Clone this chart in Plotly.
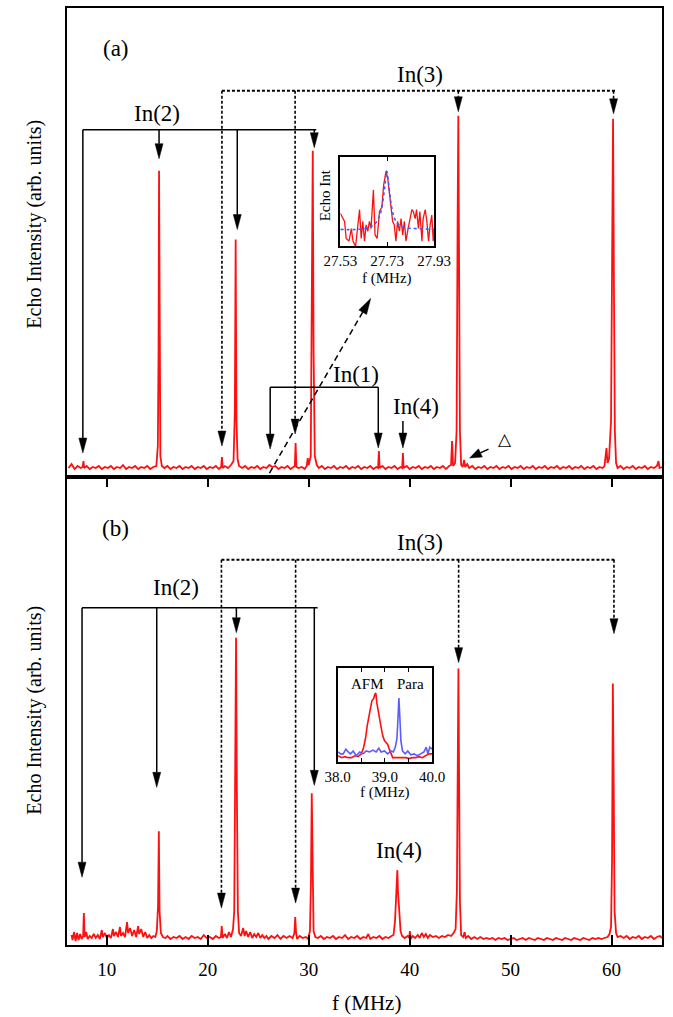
import math
import plotly.graph_objects as go

# ---------------- data: panel (a) spectrum ----------------
A_F = [6.2, 6.5, 6.8, 7.1, 7.4, 7.6, 7.68, 7.76, 8.0, 8.3, 8.6, 8.9, 9.2, 9.5, 9.8, 10.1, 10.4, 10.7,
       11.0, 11.3, 11.6, 11.9, 12.2, 12.5, 12.8, 13.1, 13.4, 13.7, 14.0, 14.3, 14.6, 14.9, 15.05, 15.12,
       15.17, 15.22, 15.3, 15.45, 15.7, 16.0, 16.3, 16.6, 16.9, 17.2, 17.5, 17.8, 18.1, 18.4, 18.7, 19.0,
       19.3, 19.6, 19.9, 20.2, 20.5, 20.8, 21.1, 21.32, 21.4, 21.48, 21.7, 22.0, 22.3, 22.55, 22.68, 22.76,
       22.84, 22.95, 23.1, 23.4, 23.7, 24.0, 24.3, 24.6, 24.9, 25.2, 25.5, 25.8, 26.1, 26.4, 26.7, 27.0,
       27.3, 27.6, 27.9, 28.2, 28.5, 28.62, 28.7, 28.78, 29.0, 29.3, 29.6, 29.8, 29.9, 30.0, 30.2, 30.32,
       30.4, 30.48, 30.6, 30.8, 31.0, 31.3, 31.6, 31.9, 32.2, 32.5, 32.8, 33.1, 33.4, 33.7, 34.0, 34.3,
       34.6, 34.9, 35.2, 35.5, 35.8, 36.1, 36.4, 36.7, 36.87, 36.95, 37.03, 37.3, 37.6, 37.9, 38.2, 38.5,
       38.8, 39.1, 39.26, 39.33, 39.4, 39.7, 40.0, 40.3, 40.6, 40.9, 41.2, 41.5, 41.8, 42.1, 42.4, 42.7,
       43.0, 43.3, 43.6, 43.9, 44.1, 44.2, 44.3, 44.5, 44.65, 44.75, 44.82, 44.9, 44.98, 45.1, 45.25, 45.4,
       45.5, 45.7, 45.9, 46.2, 46.5, 46.8, 47.1, 47.4, 47.7, 48.0, 48.3, 48.6, 48.9, 49.2, 49.5, 49.8,
       50.1, 50.4, 50.7, 51.0, 51.3, 51.6, 51.9, 52.2, 52.5, 52.8, 53.1, 53.4, 53.7, 54.0, 54.3, 54.6,
       54.9, 55.2, 55.5, 55.8, 56.1, 56.4, 56.7, 57.0, 57.3, 57.6, 57.9, 58.2, 58.5, 58.8, 59.1, 59.3,
       59.5, 59.6, 59.75, 59.95, 60.07, 60.15, 60.23, 60.33, 60.45, 60.6, 60.9, 61.2, 61.5, 61.8, 62.1,
       62.4, 62.7, 63.0, 63.3, 63.6, 63.9, 64.2, 64.5, 64.65, 64.75, 65.0]
A_I = [0.03, 0.07, 0.02, 0.05, 0.03, 0.04, 0.10, 0.03, 0.05, 0.02, 0.04, 0.03, 0.05, 0.02, 0.04, 0.03, 0.05, 0.02,
       0.04, 0.03, 0.06, 0.02, 0.04, 0.03, 0.05, 0.02, 0.04, 0.03, 0.05, 0.02, 0.04, 0.05, 0.25, 1.2,
       3.01, 1.0, 0.15, 0.05, 0.03, 0.05, 0.02, 0.04, 0.03, 0.05, 0.02, 0.04, 0.03, 0.05, 0.02, 0.04,
       0.03, 0.05, 0.02, 0.04, 0.03, 0.05, 0.02, 0.04, 0.14, 0.03, 0.05, 0.03, 0.06, 0.10, 0.6, 2.32,
       0.5, 0.12, 0.05, 0.03, 0.05, 0.02, 0.04, 0.03, 0.05, 0.02, 0.04, 0.03, 0.06, 0.04, 0.05, 0.02,
       0.04, 0.03, 0.05, 0.02, 0.04, 0.05, 0.28, 0.04, 0.03, 0.04, 0.02, 0.05, 0.13, 0.06, 0.15, 1.5,
       3.21, 1.2, 0.15, 0.06, 0.03, 0.05, 0.02, 0.04, 0.03, 0.05, 0.02, 0.04, 0.03, 0.05, 0.02, 0.04,
       0.03, 0.05, 0.02, 0.04, 0.03, 0.05, 0.02, 0.04, 0.03, 0.20, 0.03, 0.05, 0.02, 0.04, 0.03, 0.05,
       0.02, 0.04, 0.03, 0.18, 0.03, 0.05, 0.02, 0.04, 0.03, 0.05, 0.02, 0.04, 0.03, 0.05, 0.02, 0.04,
       0.03, 0.05, 0.02, 0.05, 0.06, 0.30, 0.05, 0.08, 0.4, 2.5, 3.56, 2.0, 0.4, 0.06, 0.04, 0.11,
       0.04, 0.07, 0.03, 0.05, 0.02, 0.04, 0.03, 0.05, 0.02, 0.04, 0.03, 0.05, 0.02, 0.04, 0.03, 0.05,
       0.02, 0.04, 0.03, 0.05, 0.02, 0.04, 0.03, 0.05, 0.02, 0.04, 0.03, 0.05, 0.02, 0.04, 0.03, 0.05,
       0.02, 0.04, 0.03, 0.05, 0.02, 0.04, 0.03, 0.05, 0.02, 0.04, 0.03, 0.05, 0.02, 0.04, 0.03, 0.05,
       0.23, 0.08, 0.12, 0.5, 2.6, 3.53, 2.0, 0.4, 0.08, 0.03, 0.05, 0.02, 0.04, 0.03, 0.05,
       0.02, 0.04, 0.03, 0.05, 0.02, 0.04, 0.03, 0.05, 0.10, 0.03, 0.04]

# ---------------- data: panel (b) spectrum ----------------
B_F = [6.5, 6.6, 6.75, 6.9, 7.05, 7.2, 7.35, 7.5, 7.65, 7.72, 7.8, 7.95, 8.1, 8.3, 8.5, 8.7, 8.9, 9.1,
       9.3, 9.5, 9.6, 9.8, 10.0, 10.2, 10.4, 10.6, 10.7, 10.9, 11.1, 11.3, 11.4, 11.6, 11.8, 12.0, 12.1,
       12.3, 12.5, 12.7, 12.9, 13.1, 13.2, 13.4, 13.6, 13.8, 14.0, 14.2, 14.4, 14.6, 14.8, 14.95, 15.07,
       15.15, 15.22, 15.35, 15.55, 15.8, 16.0, 16.3, 16.6, 16.9, 17.2, 17.5, 17.8, 18.1, 18.4, 18.7, 19.0,
       19.3, 19.6, 19.9, 20.2, 20.5, 20.8, 21.1, 21.3, 21.38, 21.46, 21.7, 21.9, 22.1, 22.3, 22.5, 22.62,
       22.72, 22.8, 22.88, 22.98, 23.1, 23.3, 23.5, 23.65, 23.8, 24.0, 24.2, 24.4, 24.6, 24.8, 25.0, 25.2,
       25.4, 25.6, 25.8, 26.0, 26.3, 26.6, 26.9, 27.2, 27.5, 27.8, 28.1, 28.4, 28.58, 28.66, 28.74, 28.85,
       29.1, 29.4, 29.7, 29.95, 30.12, 30.22, 30.3, 30.38, 30.48, 30.65, 30.9, 31.2, 31.5, 31.8, 32.1,
       32.4, 32.7, 33.0, 33.3, 33.6, 33.9, 34.2, 34.5, 34.8, 35.1, 35.4, 35.7, 35.9, 36.1, 36.4, 36.7,
       37.0, 37.3, 37.6, 37.9, 38.2, 38.4, 38.55, 38.65, 38.72, 38.78, 38.84, 38.92, 39.0, 39.1, 39.25,
       39.5, 39.8, 39.95, 40.02, 40.1, 40.3, 40.55, 40.8, 41.0, 41.2, 41.4, 41.6, 41.8, 42.0, 42.3, 42.6,
       42.9, 43.2, 43.5, 43.8, 44.1, 44.35, 44.55, 44.68, 44.76, 44.83, 44.9, 44.98, 45.1, 45.3, 45.45,
       45.55, 45.8, 46.1, 46.4, 46.7, 47.0, 47.3, 47.6, 47.9, 48.2, 48.5, 48.8, 49.1, 49.4, 49.7, 50.0,
       50.3, 50.6, 50.9, 51.2, 51.5, 51.8, 52.1, 52.4, 52.7, 53.0, 53.3, 53.6, 53.9, 54.2, 54.5, 54.8,
       55.1, 55.4, 55.7, 56.0, 56.3, 56.6, 56.9, 57.2, 57.5, 57.8, 58.1, 58.4, 58.7, 59.0, 59.3, 59.6,
       59.8, 59.95, 60.05, 60.13, 60.22, 60.3, 60.45, 60.6, 60.9, 61.2, 61.5, 61.8, 62.1, 62.4, 62.7,
       63.0, 63.3, 63.6, 63.9, 64.2, 64.5, 64.8, 65.0]
B_I = [0.06, 0.01, 0.09, 0.0, 0.08, 0.01, 0.07, 0.02, 0.05, 0.28, 0.04, 0.09, 0.02, 0.05, 0.03, 0.07, 0.03, 0.06,
       0.02, 0.11, 0.04, 0.08, 0.03, 0.06, 0.03, 0.12, 0.05, 0.09, 0.04, 0.14, 0.05, 0.08, 0.04, 0.19, 0.08,
       0.13, 0.05, 0.11, 0.04, 0.15, 0.07, 0.12, 0.04, 0.09, 0.03, 0.06, 0.03, 0.05, 0.04, 0.10, 0.35,
       1.10, 0.3, 0.08, 0.04, 0.03, 0.05, 0.02, 0.04, 0.03, 0.05, 0.02, 0.04, 0.02, 0.05, 0.03, 0.04,
       0.02, 0.06, 0.03, 0.04, 0.02, 0.05, 0.03, 0.04, 0.15, 0.03, 0.07, 0.03, 0.09, 0.04, 0.12, 0.3,
       1.5, 3.04, 1.5, 0.3, 0.08, 0.05, 0.13, 0.05, 0.10, 0.04, 0.09, 0.03, 0.07, 0.04, 0.08, 0.03,
       0.06, 0.03, 0.05, 0.02, 0.05, 0.03, 0.06, 0.02, 0.05, 0.03, 0.05, 0.03, 0.08, 0.24, 0.09, 0.02,
       0.05, 0.03, 0.04, 0.02, 0.1, 0.6, 1.48, 0.6, 0.1, 0.04, 0.03, 0.05, 0.02, 0.04, 0.03,
       0.05, 0.02, 0.04, 0.03, 0.06, 0.02, 0.04, 0.03, 0.05, 0.02, 0.04, 0.03, 0.07, 0.02, 0.04, 0.03,
       0.05, 0.02, 0.04, 0.03, 0.05, 0.06, 0.2, 0.45, 0.62, 0.71, 0.5, 0.33, 0.2, 0.1, 0.05,
       0.03, 0.05, 0.03, 0.10, 0.02, 0.05, 0.03, 0.06, 0.03, 0.08, 0.04, 0.07, 0.03, 0.06, 0.04, 0.05,
       0.03, 0.05, 0.04, 0.06, 0.05, 0.08, 0.12, 0.5, 1.8, 2.73, 1.6, 0.4, 0.06, 0.04, 0.09,
       0.03, 0.05, 0.02, 0.04, 0.02, 0.04, 0.02, 0.03, 0.02, 0.03, 0.01, 0.03, 0.02, 0.03, 0.01, 0.02,
       0.03, 0.01, 0.02, 0.03, 0.01, 0.03, 0.02, 0.01, 0.03, 0.02, 0.01, 0.03, 0.02, 0.01, 0.03, 0.02,
       0.01, 0.03, 0.02, 0.01, 0.03, 0.02, 0.01, 0.03, 0.02, 0.01, 0.03, 0.02, 0.03, 0.02, 0.03, 0.04,
       0.07, 0.14, 0.8, 2.58, 1.5, 0.3, 0.08, 0.04, 0.05, 0.03, 0.05, 0.02, 0.04, 0.03, 0.05,
       0.02, 0.04, 0.03, 0.05, 0.02, 0.04, 0.05, 0.03]

# ---------------- data: inset (a) ----------------
IA_F = [27.530, 27.548, 27.555, 27.567, 27.577, 27.584, 27.595, 27.605, 27.612, 27.619, 27.626, 27.633,
        27.640, 27.647, 27.654, 27.661, 27.671, 27.678, 27.687, 27.697, 27.707, 27.715, 27.725, 27.732,
        27.739, 27.746, 27.753, 27.760, 27.767, 27.774, 27.782, 27.789, 27.796, 27.803, 27.810, 27.817,
        27.824, 27.835, 27.841, 27.849, 27.855, 27.863, 27.869, 27.878, 27.883, 27.892, 27.899, 27.906,
        27.913, 27.920, 27.926, 27.930]
IA_I = [0.37, 0.28, 0.09, 0.06, 0.20, 0.06, 0.00, 0.28, 0.41, 0.09, 0.28, 0.06,
        0.24, 0.17, 0.28, 0.20, 0.63, 0.13, 0.09, 0.39, 0.44, 0.69, 0.84, 0.76,
        0.61, 0.46, 0.28, 0.24, 0.06, 0.28, 0.17, 0.31, 0.13, 0.28, 0.06, 0.17,
        0.28, 0.41, 0.39, 0.31, 0.41, 0.20, 0.39, 0.06, 0.31, 0.41, 0.28, 0.06,
        0.24, 0.35, 0.06, 0.20]
IA_FIT_F = [27.53, 27.60, 27.65, 27.68, 27.70, 27.71, 27.72, 27.728, 27.735, 27.745, 27.76, 27.78, 27.81, 27.85, 27.93]
IA_FIT_I = [0.19, 0.19, 0.21, 0.26, 0.36, 0.48, 0.68, 0.84, 0.72, 0.50, 0.32, 0.24, 0.21, 0.20, 0.19]
IA_TICKS = [27.53, 27.73, 27.93]

# ---------------- data: inset (b) ----------------
AFM_F = [38.014, 38.084, 38.153, 38.223, 38.293, 38.362, 38.432, 38.502, 38.551, 38.592, 38.627, 38.662,
         38.690, 38.725, 38.760, 38.787, 38.808, 38.829, 38.857, 38.885, 38.920, 38.955, 38.990, 39.024,
         39.059, 39.094, 39.129, 39.164, 39.233, 39.303, 39.373, 39.443, 39.512, 39.582, 39.652, 39.721,
         39.791, 39.861, 39.930, 40.0]
AFM_I = [0.07, 0.05, 0.06, 0.05, 0.05, 0.07, 0.06, 0.09, 0.16, 0.26, 0.39, 0.51,
         0.56, 0.65, 0.67, 0.72, 0.73, 0.63, 0.54, 0.44, 0.37, 0.28, 0.23, 0.21,
         0.19, 0.14, 0.09, 0.05, 0.05, 0.05, 0.05, 0.05, 0.04, 0.05, 0.05, 0.06,
         0.05, 0.07, 0.09, 0.09]
PARA_F = [38.014, 38.063, 38.118, 38.174, 38.223, 38.272, 38.328, 38.397, 38.467, 38.537, 38.606, 38.676,
          38.746, 38.815, 38.871, 38.920, 38.990, 39.059, 39.129, 39.178, 39.220, 39.254, 39.275, 39.296,
          39.317, 39.338, 39.373, 39.429, 39.484, 39.547, 39.617, 39.687, 39.756, 39.826, 39.875, 39.909,
          39.951, 40.0]
PARA_I = [0.11, 0.09, 0.09, 0.14, 0.11, 0.09, 0.12, 0.07, 0.11, 0.09, 0.12, 0.11,
          0.13, 0.11, 0.15, 0.11, 0.12, 0.09, 0.12, 0.11, 0.16, 0.25, 0.44, 0.68,
          0.47, 0.23, 0.12, 0.09, 0.12, 0.08, 0.09, 0.07, 0.09, 0.11, 0.16, 0.09,
          0.16, 0.14]
IB_TICKS = [38.0, 38.5, 39.0, 39.5, 40.0]
IB_TICKTEXT = ["38.0", "", "39.0", "", "40.0"]

MAIN_TICKS = [10, 20, 30, 40, 50, 60]

# ---------------- assignment brackets ----------------
A_IN3_F, A_IN3_TIP, A_IN3_Y, A_IN3_END = [21.4, 28.65, 44.82, 60.2], [0.25, 0.37, 3.60, 3.58], 3.81, 60.35
A_IN2_F, A_IN2_TIP, A_IN2_Y, A_IN2_END = [7.62, 15.17, 22.92, 30.55], [0.18, 3.13, 2.42, 3.24], 3.42, 30.75
A_IN1_F, A_IN1_TIP, A_IN1_Y = [26.18, 36.89], [0.22, 0.23], 0.84
A_IN4_F, A_IN4_TOP, A_IN4_TIP = 39.33, 0.50, 0.23
B_IN3_F, B_IN3_TIP, B_IN3_Y, B_IN3_END = [21.35, 28.7, 44.85, 60.24], [0.33, 0.38, 2.79, 3.08], 3.82, 60.28
B_IN2_F, B_IN2_TIP, B_IN2_Y, B_IN2_END = [7.54, 14.94, 22.83, 30.55], [0.64, 1.54, 3.09, 1.56], 3.34, 30.88

FONT = "Liberation Serif, Times New Roman, serif"
RED = "#ff1010"
PXF = 10.14   # px per MHz on main axes
PXY = 100.0   # px per intensity unit on main axes
HH = 0.15

# the captured page is ~685 px wide and shown at 673: widen the canvas to match
W = 685
K = W / 673.0
ML = 66 * K
MR = W - 664 * K

shapes = []


def line(x0, y0, x1, y1, xr, yr, dash="solid", w=1.5):
    shapes.append(dict(type="line", xref=xr, yref=yr, x0=x0, y0=y0, x1=x1, y1=y1,
                       line=dict(color="black", width=w, dash=dash)))


def head(xt, yt, xb, yb, hw, xr, yr):
    dx, dy = (xt - xb) * PXF, (yt - yb) * PXY
    L = math.hypot(dx, dy)
    px, py = -dy / L, dx / L
    c1 = (xb + hw * px / PXF, yb + hw * py / PXY)
    c2 = (xb - hw * px / PXF, yb - hw * py / PXY)
    shapes.append(dict(type="path", xref=xr, yref=yr,
                       path=f"M {xt},{yt} L {c1[0]},{c1[1]} L {c2[0]},{c2[1]} Z",
                       fillcolor="black", line=dict(color="black", width=0.5)))


def varrow(f, ytop, tip, xr, yr, dash="solid", w=1.5):
    line(f, ytop, f, tip + HH, xr, yr, dash, w)
    head(f, tip, f, tip + HH, 4.0, xr, yr)


def sarrow(x0, y0, x1, y1, xr, yr, dash, hl, hw):
    dx, dy = (x1 - x0) * PXF, (y1 - y0) * PXY
    L = math.hypot(dx, dy)
    bx = x1 - hl * dx / L / PXF
    by = y1 - hl * dy / L / PXY
    line(x0, y0, bx, by, xr, yr, dash, 1.5)
    head(x1, y1, bx, by, hw, xr, yr)


DOT = "3px,2px"
# panel (a)
line(A_IN3_F[0], A_IN3_Y, A_IN3_END, A_IN3_Y, "x", "y", DOT, 2)
for f, t in zip(A_IN3_F, A_IN3_TIP):
    varrow(f, A_IN3_Y, t, "x", "y", DOT, 1.6)
line(A_IN2_F[0], A_IN2_Y, A_IN2_END, A_IN2_Y, "x", "y")
for f, t in zip(A_IN2_F, A_IN2_TIP):
    varrow(f, A_IN2_Y, t, "x", "y")
line(A_IN1_F[0], A_IN1_Y, A_IN1_F[1], A_IN1_Y, "x", "y")
for f, t in zip(A_IN1_F, A_IN1_TIP):
    varrow(f, A_IN1_Y, t, "x", "y")
varrow(A_IN4_F, A_IN4_TOP, A_IN4_TIP, "x", "y")
sarrow(26.11, -0.02, 36.14, 1.73, "x", "y", "6px,4px", 16, 4.5)
sarrow(47.81, 0.22, 45.94, 0.13, "x", "y", "solid", 12, 4.5)
# panel (b)
line(B_IN3_F[0], B_IN3_Y, B_IN3_END, B_IN3_Y, "x2", "y2", DOT, 2)
for f, t in zip(B_IN3_F, B_IN3_TIP):
    varrow(f, B_IN3_Y, t, "x2", "y2", DOT, 1.6)
line(B_IN2_F[0], B_IN2_Y, B_IN2_END, B_IN2_Y, "x2", "y2")
for f, t in zip(B_IN2_F, B_IN2_TIP):
    varrow(f, B_IN2_Y, t, "x2", "y2")

fig = go.Figure()
fig.add_trace(go.Scatter(x=A_F, y=A_I, xaxis="x", yaxis="y", mode="lines",
                         line=dict(color=RED, width=1.8)))
fig.add_trace(go.Scatter(x=B_F, y=B_I, xaxis="x2", yaxis="y2", mode="lines",
                         line=dict(color=RED, width=1.8)))
fig.add_trace(go.Scatter(x=IA_F, y=IA_I, xaxis="x3", yaxis="y3", mode="lines",
                         line=dict(color=RED, width=1.3)))
fig.add_trace(go.Scatter(x=IA_FIT_F, y=IA_FIT_I, xaxis="x3", yaxis="y3", mode="lines",
                         line=dict(color="#3a5cff", width=1.6, dash="dot", shape="spline")))
fig.add_trace(go.Scatter(x=AFM_F, y=AFM_I, xaxis="x4", yaxis="y4", mode="lines",
                         line=dict(color=RED, width=1.6)))
fig.add_trace(go.Scatter(x=PARA_F, y=PARA_I, xaxis="x4", yaxis="y4", mode="lines",
                         line=dict(color="#5b5bff", width=1.6)))


def px2paper(px, py):
    return (px - 66) / 598.0, (945 - py) / 939.0


ann = []


def text(t, x, y, xr, yr, size=20, angle=0):
    ann.append(dict(text=t, x=x, y=y, xref=xr, yref=yr, showarrow=False, textangle=angle,
                    font=dict(family=FONT, size=size, color="black"),
                    xanchor="center", yanchor="middle"))


BIG = 23
text("(a)", 10.93, 4.23, "x", "y", 23)
text("In(3)", 41.0, 3.97, "x", "y", BIG)
text("In(2)", 14.97, 3.58, "x", "y", BIG)
text("In(1)", 34.66, 0.97, "x", "y", BIG)
text("In(4)", 40.6, 0.65, "x", "y", BIG)
text("△", 49.46, 0.32, "x", "y", 17)
text("(b)", 10.83, 4.13, "x2", "y2", 23)
text("In(3)", 41.07, 3.99, "x2", "y2", BIG)
text("In(2)", 16.84, 3.54, "x2", "y2", BIG)
text("In(4)", 38.93, 0.91, "x2", "y2", BIG)
text("AFM", 38.63, 0.83, "x4", "y4", 15)
text("Para", 39.54, 0.83, "x4", "y4", 15)

x, y = px2paper(33, 223)
text("Echo Intensity (arb. units)", x, y, "paper", "paper", 20, -90)
x, y = px2paper(33, 710)
text("Echo Intensity (arb. units)", x, y, "paper", "paper", 20, -90)
x, y = px2paper(367, 1003)
text("f (MHz)", x, y, "paper", "paper", 21)
x, y = px2paper(388, 277)
text("f (MHz)", x, y, "paper", "paper", 15)
x, y = px2paper(325, 194)
text("Echo Int", x, y, "paper", "paper", 15, -90)
x, y = px2paper(385.5, 792)
text("f (MHz)", x, y, "paper", "paper", 15)

frame = dict(showline=True, mirror=True, linecolor="black", linewidth=1.5,
             showgrid=False, zeroline=False)
SPLIT = 469.0 / 939.0

fig.update_layout(
    width=W, height=1017, autosize=False,
    margin=dict(l=ML, r=MR, t=6, b=72),
    paper_bgcolor="white", plot_bgcolor="white",
    showlegend=False,
    font=dict(family=FONT, color="black"),
    shapes=shapes, annotations=ann,
    xaxis=dict(frame, domain=[0, 1], anchor="y", range=[6.05, 65.0], ticks="",
               showticklabels=False),
    yaxis=dict(frame, domain=[SPLIT, 1], anchor="x", range=[-0.06, 4.64], ticks="",
               showticklabels=False),
    xaxis2=dict(frame, domain=[0, 1], anchor="y2", range=[6.05, 65.0], mirror="ticks",
                ticks="inside", ticklen=10, tickwidth=1.5, tickcolor="black",
                tickvals=MAIN_TICKS, tickfont=dict(family=FONT, size=19),
                ticklabelstandoff=6),
    yaxis2=dict(frame, domain=[0, SPLIT], anchor="x2", range=[-0.04, 4.65], ticks="",
                showticklabels=False),
    xaxis3=dict(frame, domain=[(340.7 - 66) / 598, (435 - 66) / 598], anchor="y3",
                range=[27.53, 27.93], mirror="ticks", ticks="inside", ticklen=5,
                tickcolor="black", tickwidth=1.2, tickvals=IA_TICKS,
                ticktext=[f"{v:.2f}" for v in IA_TICKS],
                tickfont=dict(family=FONT, size=15)),
    yaxis3=dict(frame, domain=[(945 - 245) / 939, (945 - 155) / 939], anchor="x3",
                range=[0, 1], ticks="", showticklabels=False),
    xaxis4=dict(frame, domain=[(338 - 66) / 598, (433 - 66) / 598], anchor="y4",
                range=[38.0, 40.0], mirror="ticks", ticks="inside", ticklen=5,
                tickcolor="black", tickwidth=1.2, tickvals=IB_TICKS, ticktext=IB_TICKTEXT,
                tickfont=dict(family=FONT, size=15)),
    yaxis4=dict(frame, domain=[(945 - 762) / 939, (945 - 667) / 939], anchor="x4",
                range=[0, 1], ticks="", showticklabels=False),
)

fig.write_html("out.html",
               config={"responsive": False, "displayModeBar": False},
               post_script="document.documentElement.style.overflow='hidden';"
                           "document.body.style.margin='0';document.body.style.overflow='hidden';")
